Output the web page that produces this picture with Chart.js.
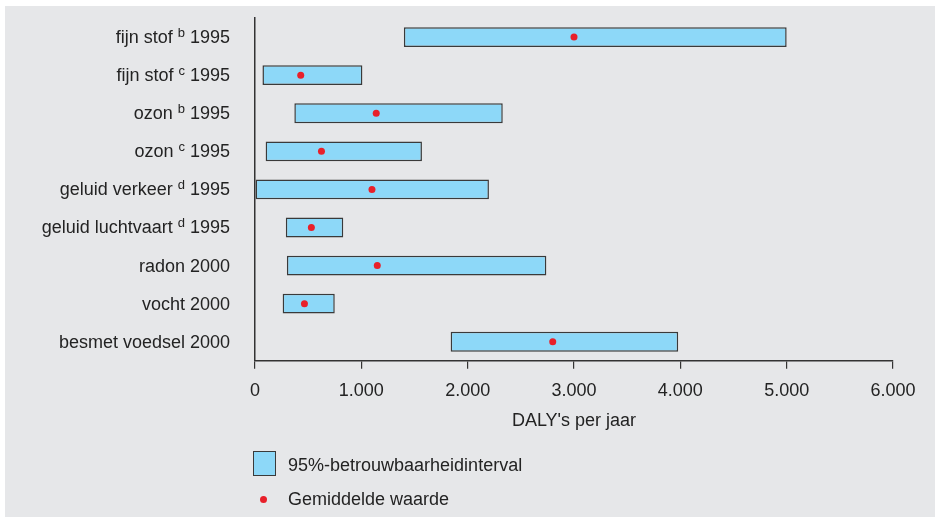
<!DOCTYPE html>
<html>
<head>
<meta charset="utf-8">
<script src="https://cdn.jsdelivr.net/npm/chart.js@4"></script>
<style>
	body {
		margin: 0;
		background: #fff;
		font-family: "Liberation Sans", Arial, sans-serif;
		color: #232323;
	}

	#frame {
		position: absolute;
		left: 5px;
		top: 6px;
		width: 930px;
		height: 511px;
		background: #e6e7e9;
	}

	#wrap {
		position: absolute;
		left: 0;
		top: 0;
		width: 935px;
		height: 517px;
	}

	.legend-item {
		position: absolute;
		left: 288px;
		font-size: 18px;
		line-height: 20px;
	}

	.legend-box {
		position: absolute;
		left: 253px;
		top: 451px;
		width: 21px;
		height: 23px;
		background: #8dd8f8;
		border: 1.5px solid #3a3a3a;
	}

	.legend-dot {
		position: absolute;
		left: 260px;
		top: 496px;
		width: 7px;
		height: 7px;
		border-radius: 50%;
		background: #e8202a;
	}
</style>
</head>
<body>
<div id="frame"></div>
<div id="wrap"><canvas id="canvas" width="935" height="517"></canvas></div>
<div class="legend-box"></div>
<div class="legend-item" style="top:455px">95%-betrouwbaarheidinterval</div>
<div class="legend-dot"></div>
<div class="legend-item" style="top:489px">Gemiddelde waarde</div>

<script>
const categories = ['fijn stof', 'fijn stof', 'ozon', 'ozon', 'geluid verkeer', 'geluid luchtvaart', 'radon', 'vocht', 'besmet voedsel'];
const notes = ['b', 'c', 'b', 'c', 'd', 'd', '', '', ''];
const years = ['1995', '1995', '1995', '1995', '1995', '1995', '2000', '2000', '2000'];

// 95% interval, DALY's per jaar
const lower = [1400, 70, 370, 100, 0, 290, 300, 260, 1840];
const upper = [5000, 1010, 2330, 1570, 2200, 830, 2740, 750, 3980];
const mean = [3000, 430, 1140, 625, 1100, 530, 1150, 465, 2800];

const xTicks = [0, 1000, 2000, 3000, 4000, 5000, 6000];

const textColor = '#232323';
const axisColor = '#333333';
const font = '"Liberation Sans", Arial, sans-serif';

const labels = categories.map((c, i) => [c, notes[i], years[i]].filter(Boolean).join(' '));

// category labels, drawn by hand so the notes can be superscript
const yLabels = {
	id: 'yLabels',
	afterDraw(chart) {
		const ctx = chart.ctx;
		const y = chart.scales.y;
		const right = chart.chartArea.left - 25;
		ctx.save();
		ctx.fillStyle = textColor;
		ctx.textBaseline = 'alphabetic';
		categories.forEach((cat, i) => {
			const base = y.getPixelForValue(i) + 6;
			ctx.font = '18px ' + font;
			if (!notes[i]) {
				ctx.textAlign = 'right';
				ctx.fillText(cat + ' ' + years[i], right, base);
				return;
			}
			ctx.textAlign = 'left';
			const yearW = ctx.measureText(' ' + years[i]).width;
			const mainW = ctx.measureText(cat + ' ').width;
			ctx.font = '13px ' + font;
			const supW = ctx.measureText(notes[i]).width;
			let x = right - yearW - supW - mainW;
			ctx.font = '18px ' + font;
			ctx.fillText(cat + ' ', x, base);
			x += mainW;
			ctx.font = '13px ' + font;
			ctx.fillText(notes[i], x, base - 6);
			x += supW;
			ctx.font = '18px ' + font;
			ctx.fillText(' ' + years[i], x, base);
		});
		ctx.restore();
	}
};

new Chart(document.getElementById('canvas'), {
	type: 'bar',
	data: {
		labels: labels,
		datasets: [{
			label: '95%-betrouwbaarheidinterval',
			data: lower.map((l, i) => [l, upper[i]]),
			backgroundColor: '#8dd8f8',
			borderColor: '#3a3a3a',
			borderWidth: 1.5,
			borderSkipped: false,
			barPercentage: 0.52,
			categoryPercentage: 1,
			order: 2
		}, {
			type: 'line',
			label: 'Gemiddelde waarde',
			data: mean,
			indexAxis: 'y',
			showLine: false,
			pointRadius: 3.5,
			pointBorderWidth: 0,
			pointBackgroundColor: '#e8202a',
			order: 1
		}]
	},
	options: {
		indexAxis: 'y',
		responsive: false,
		animation: false,
		layout: {
			padding: { left: 247, top: 18, right: 42, bottom: 85 }
		},
		plugins: {
			legend: { display: false },
			tooltip: { enabled: false }
		},
		scales: {
			x: {
				min: 0,
				max: 6000,
				afterBuildTicks: scale => {
					scale.ticks = xTicks.map(v => ({ value: v }));
				},
				grid: {
					drawOnChartArea: false,
					drawTicks: true,
					tickLength: 8,
					color: axisColor,
					lineWidth: 1.2
				},
				border: { display: true, color: axisColor, width: 1.5 },
				ticks: {
					color: textColor,
					padding: 11,
					maxRotation: 0,
					font: { family: font, size: 18 },
					callback: v => String(v).replace(/\B(?=(\d{3})+(?!\d))/g, '.')
				},
				title: {
					display: true,
					text: "DALY's per jaar",
					color: textColor,
					padding: { top: -2, bottom: 0 },
					font: { family: font, size: 18 }
				}
			},
			y: {
				grid: { display: false },
				border: { display: true, color: axisColor, width: 1.5 },
				ticks: { display: false }
			}
		}
	},
	plugins: [yLabels]
});
</script>
</body>
</html>
